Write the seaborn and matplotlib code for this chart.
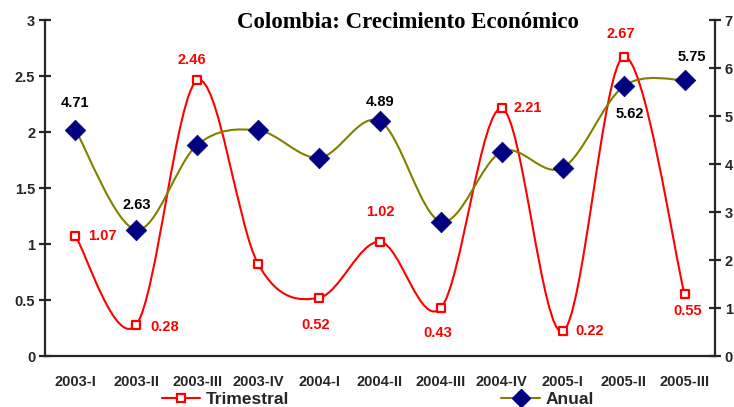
import numpy as np
import matplotlib
matplotlib.use("Agg")
import matplotlib.pyplot as plt
from matplotlib.path import Path
from matplotlib.patches import PathPatch
from matplotlib.lines import Line2D
from matplotlib.font_manager import FontProperties
import seaborn as sns

periods = ["2003-I", "2003-II", "2003-III", "2003-IV", "2004-I", "2004-II",
           "2004-III", "2004-IV", "2005-I", "2005-II", "2005-III"]
trimestral = [1.07, 0.28, 2.46, 0.82, 0.52, 1.02, 0.43, 2.21, 0.22, 2.67, 0.55]
anual = [4.71, 2.63, 4.40, 4.70, 4.13, 4.89, 2.80, 4.26, 3.92, 5.62, 5.75]

# label placement: (dx, dy) in pixels, None = no label
trim_lab = [(27, 0), (28, -2), (-5, 20), None, (-3, -27), (0, 30),
            (-3, -25), (26, 0), (27, 0), (-3, 23), (3, -17)]
anual_lab = [(0, 27), (0, 25), None, None, None, (0, 19),
             None, None, None, (6, -28), (7, 23)]

RED = "#ff0000"
OLIVE = "#808000"
NAVY = "#000080"

sns.set_style("white")
plt.rcParams["font.family"] = ["Liberation Sans", "DejaVu Sans"]


def smooth_path(xs, ys):
    # Excel-style smoothed line: cubic bezier through the points
    pts = np.column_stack([xs, ys]).astype(float)
    ext = np.vstack([pts[0], pts, pts[-1]])
    verts = [pts[0]]
    codes = [Path.MOVETO]
    for i in range(len(pts) - 1):
        p0, p1, p2, p3 = ext[i], ext[i + 1], ext[i + 2], ext[i + 3]
        verts += [p1 + (p2 - p0) / 6, p2 - (p3 - p1) / 6, p2]
        codes += [Path.CURVE4] * 3
    return Path(verts, codes)


fig = plt.figure(figsize=(7.34, 4.07), dpi=100)
ax = fig.add_axes([45 / 734, 51 / 407, 670 / 734, 336 / 407])
ax2 = ax.twinx()

x = np.arange(len(periods))

ax.add_patch(PathPatch(smooth_path(x, trimestral), fill=False, edgecolor=RED, lw=1.5, zorder=2))
sns.scatterplot(x=x, y=trimestral, ax=ax, marker="s", s=40, color="white",
                edgecolor=RED, linewidth=1.6, zorder=3, legend=False)

ax2.add_patch(PathPatch(smooth_path(x, anual), fill=False, edgecolor=OLIVE, lw=1.5, zorder=2))
sns.scatterplot(x=x, y=anual, ax=ax2, marker="D", s=110, color=NAVY,
                edgecolor=NAVY, linewidth=0.5, zorder=3, legend=False)

for xi, v, off in zip(x, trimestral, trim_lab):
    if off is None:
        continue
    ax.annotate(f"{v:.2f}", (xi, v), xytext=off, textcoords="offset pixels",
                ha="center", va="center", color=RED, fontsize=10.5, fontweight="bold")
for xi, v, off in zip(x, anual, anual_lab):
    if off is None:
        continue
    ax2.annotate(f"{v:.2f}", (xi, v), xytext=off, textcoords="offset pixels",
                 ha="center", va="center", color="black", fontsize=10.5, fontweight="bold")

ax.set_xlim(-0.5, len(periods) - 0.5)
ax.set_ylim(0, 3)
ax2.set_ylim(0, 7)
ax.set_yticks(np.arange(0, 3.01, 0.5))
ax.set_yticklabels(["0", "0.5", "1", "1.5", "2", "2.5", "3"])
ax2.set_yticks(range(0, 8))
ax.set_xticks(x)
ax.set_xticklabels(periods)
ax.set_xticks(np.arange(-0.5, len(periods)), minor=True)

for a in (ax, ax2):
    for s in a.spines.values():
        s.set_linewidth(1.6)
    a.spines["top"].set_visible(False)
ax.spines["right"].set_visible(False)
ax2.spines["left"].set_visible(False)
ax2.spines["bottom"].set_visible(False)

ax.tick_params(axis="x", which="major", length=0, pad=14, labelsize=10.5)
ax.tick_params(axis="x", which="minor", direction="inout", length=8, width=1.6)
ax.tick_params(axis="y", direction="inout", length=8, width=1.6, labelsize=10.5, pad=3)
ax2.tick_params(axis="y", direction="inout", length=8, width=1.6, labelsize=10.5, pad=3)
for lab in ax.get_xticklabels() + ax.get_yticklabels() + ax2.get_yticklabels():
    lab.set_fontweight("bold")

title_font = FontProperties(family=["Liberation Serif", "DejaVu Serif"], weight="bold", size=16.5)
fig.text(408 / 734, 1 - 23 / 407, "Colombia: Crecimiento Económico",
         ha="center", va="center", fontproperties=title_font, color="black")

handles = [
    Line2D([], [], color=RED, lw=1.5, marker="s", ms=6, mfc="white", mec=RED, mew=1.6),
    Line2D([], [], color=OLIVE, lw=1.5, marker="D", ms=9, mfc=NAVY, mec=NAVY),
]
fig.legend(handles, ["Trimestral", "Anual"], loc="center", bbox_to_anchor=(0.515, 0.018),
           ncol=2, frameon=False, handlelength=2.2, handletextpad=0.35, columnspacing=12.2,
           borderpad=0.2, prop={"size": 12.5, "weight": "bold"})

fig.savefig("out.png", dpi=100)
